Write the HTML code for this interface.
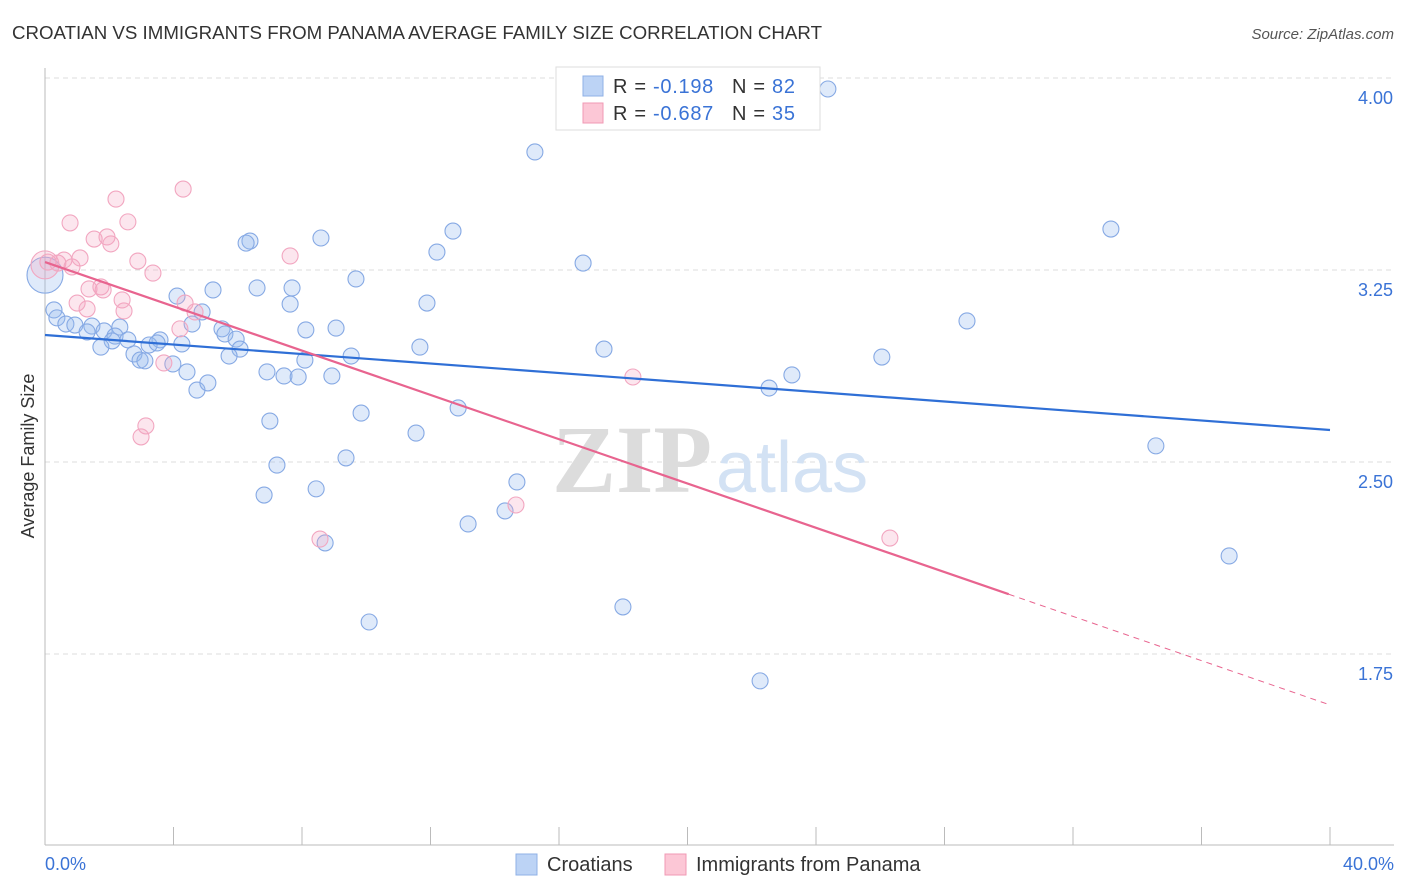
<!DOCTYPE html>
<html><head><meta charset="utf-8"><style>
body{margin:0;background:#fff;font-family:"Liberation Sans",sans-serif}
svg{display:block}
</style></head><body>
<svg id="chart" width="1406" height="892" xmlns="http://www.w3.org/2000/svg" font-family="Liberation Sans, sans-serif">
<text x="12" y="39" font-size="18" fill="#333" textLength="810" lengthAdjust="spacingAndGlyphs">CROATIAN VS IMMIGRANTS FROM PANAMA AVERAGE FAMILY SIZE CORRELATION CHART</text>
<text x="1394" y="39" font-size="15" fill="#555" font-style="italic" text-anchor="end">Source: ZipAtlas.com</text>
<g id="grid"></g>
<g>
<text x="552" y="492" font-size="96" fill="#dcdcdc" font-family="Liberation Serif, serif" font-weight="bold">ZIP</text>
<text x="716" y="492" font-size="72" fill="#d3e2f4">atlas</text>
</g>
<text transform="translate(34,456) rotate(-90)" font-size="18" fill="#333" text-anchor="middle">Average Family Size</text>
<g id="marks"></g>
<g>
<rect x="556" y="67" width="264" height="63" fill="#fff" stroke="#ddd"/>
<rect x="583" y="76" width="20" height="20" fill="#bcd3f5" stroke="#8fb0e6"/>
<rect x="583" y="103" width="20" height="20" fill="#fcc7d6" stroke="#f09ab4"/>
<text x="613" y="93" font-size="20" fill="#333" textLength="182" lengthAdjust="spacing">R = <tspan fill="#3a73d6"> -0.198</tspan><tspan dx="18">N = </tspan><tspan fill="#3a73d6">82</tspan></text>
<text x="613" y="120" font-size="20" fill="#333" textLength="182" lengthAdjust="spacing">R = <tspan fill="#3a73d6">-0.687</tspan><tspan dx="18">N = </tspan><tspan fill="#3a73d6">35</tspan></text>
</g>
<g>
<rect x="516" y="854" width="21" height="21" fill="#bcd3f5" stroke="#8fb0e6"/>
<text x="547" y="871" font-size="20" fill="#333">Croatians</text>
<rect x="665" y="854" width="21" height="21" fill="#fcc7d6" stroke="#f09ab4"/>
<text x="696" y="871" font-size="20" fill="#333">Immigrants from Panama</text>
</g>
</svg>
<script>
const yTicks=[4.00,3.25,2.50,1.75];
const yTickLabels=["4.00","3.25","2.50","1.75"];
const xLabels=["0.0%","40.0%"];
const blueX=[24.37,15.25,33.18,12.70,12.20,8.59,6.38,6.26,16.75,9.68,5.23,6.60,7.69,7.63,4.11,11.89,4.89,28.70,0.28,0.37,0.65,0.93,1.46,1.31,1.84,2.33,2.18,2.58,2.09,1.74,3.58,3.24,3.49,4.26,4.58,5.51,5.60,5.95,6.07,5.73,8.12,9.06,11.67,9.53,8.09,2.77,2.96,3.11,3.98,4.42,4.73,5.07,6.91,7.44,7.88,8.93,17.40,26.05,23.25,22.54,12.86,9.84,7.00,11.55,34.58,9.37,7.22,6.82,8.44,14.69,14.32,13.17,8.72,36.86,17.99,10.09,22.26,0];
const blueY=[3.957,3.711,3.410,3.402,3.320,3.375,3.363,3.355,3.277,3.215,3.172,3.180,3.180,3.117,3.148,3.121,3.086,3.051,3.094,3.063,3.039,3.035,3.031,3.008,3.012,3.027,2.992,2.977,2.973,2.949,2.977,2.957,2.965,2.961,3.039,3.020,3.000,2.980,2.941,2.914,3.016,3.023,2.949,2.914,2.898,2.922,2.898,2.895,2.883,2.852,2.781,2.809,2.852,2.836,2.832,2.836,2.941,2.910,2.840,2.789,2.711,2.691,2.660,2.613,2.563,2.516,2.488,2.371,2.395,2.422,2.309,2.258,2.184,2.133,1.934,1.875,1.645,3.23];
const pinkX=[0,0.09,0.40,0.59,0.84,1.09,0.78,2.21,2.58,4.30,1.53,1.93,2.05,2.89,3.36,7.63,1.37,1.74,1.81,1.00,1.31,2.40,2.46,4.36,4.67,4.20,3.70,18.30,3.14,2.99,14.66,8.56,26.30];
const pinkY=[3.270,3.281,3.277,3.289,3.262,3.297,3.434,3.527,3.438,3.566,3.371,3.379,3.352,3.285,3.238,3.305,3.176,3.184,3.172,3.121,3.098,3.133,3.090,3.121,3.086,3.020,2.887,2.832,2.641,2.598,2.332,2.199,2.203];
const blueLine=[2.996,2.625];
const pinkLine=[3.281,1.551];
const pinkSolidEnd=30;

const NS="http://www.w3.org/2000/svg";
const X=v=>45+v/40*1285;
const Y=v=>78+(4-v)*256;
function mk(tag,attrs,parent){const e=document.createElementNS(NS,tag);for(const k in attrs)e.setAttribute(k,attrs[k]);parent.appendChild(e);return e;}
const grid=document.getElementById('grid');
const marks=document.getElementById('marks');
yTicks.forEach((t,i)=>{
  const l=mk('line',{x1:45,x2:1394,y1:Y(t),y2:Y(t),stroke:'#ddd','stroke-dasharray':'5,4'},grid);
  
  
  const tx=mk('text',{x:1393,y:Y(t)+26,'font-size':18,fill:'#3a73d6','text-anchor':'end'},grid);
  tx.textContent=yTickLabels[i];
  
  
});
const ax=mk('line',{x1:45,x2:1394,y1:845,y2:845,stroke:'#bbb'},grid);


const ay=mk('line',{x1:45,x2:45,y1:68,y2:845,stroke:'#bbb'},grid);


for(let i=0;i<=10;i++){
  const t=mk('line',{x1:X(i*4),x2:X(i*4),y1:827,y2:845,stroke:'#bbb'},grid);
  
  
}
[[0,'start',45],[40,'end',1394]].forEach((d,i)=>{
  const tx=mk('text',{x:d[2],y:870,'font-size':18,fill:'#3a73d6','text-anchor':d[1]},grid);
  tx.textContent=xLabels[i];
  
  
});
blueX.forEach((x,i)=>{
  const big=(x===0&&blueY[i]===3.23);
  const c=mk('circle',{cx:X(x),cy:Y(blueY[i]),r:big?18:8,fill:'rgba(150,185,240,0.3)',stroke:'#86a9e4','stroke-width':1.1},marks);
  
  
});
pinkX.forEach((x,i)=>{
  const c=mk('circle',{cx:X(x),cy:Y(pinkY[i]),r:i===0?14:8,fill:'rgba(245,165,195,0.28)',stroke:'#f2a6c0','stroke-width':1.1},marks);
  
  
});
const bl=mk('line',{x1:X(0),y1:Y(blueLine[0]),x2:X(40),y2:Y(blueLine[1]),stroke:'#2f6fd6','stroke-width':2.2},marks);


const py=x=>pinkLine[0]+(pinkLine[1]-pinkLine[0])*x/40;
const pl=mk('line',{x1:X(0),y1:Y(py(0)),x2:X(pinkSolidEnd),y2:Y(py(pinkSolidEnd)),stroke:'#e8648f','stroke-width':2.2},marks);


const pd=mk('line',{x1:X(pinkSolidEnd),y1:Y(py(pinkSolidEnd)),x2:X(40),y2:Y(py(40)),stroke:'#e8648f','stroke-width':1,'stroke-dasharray':'6,5'},marks);


</script>
</body></html>
